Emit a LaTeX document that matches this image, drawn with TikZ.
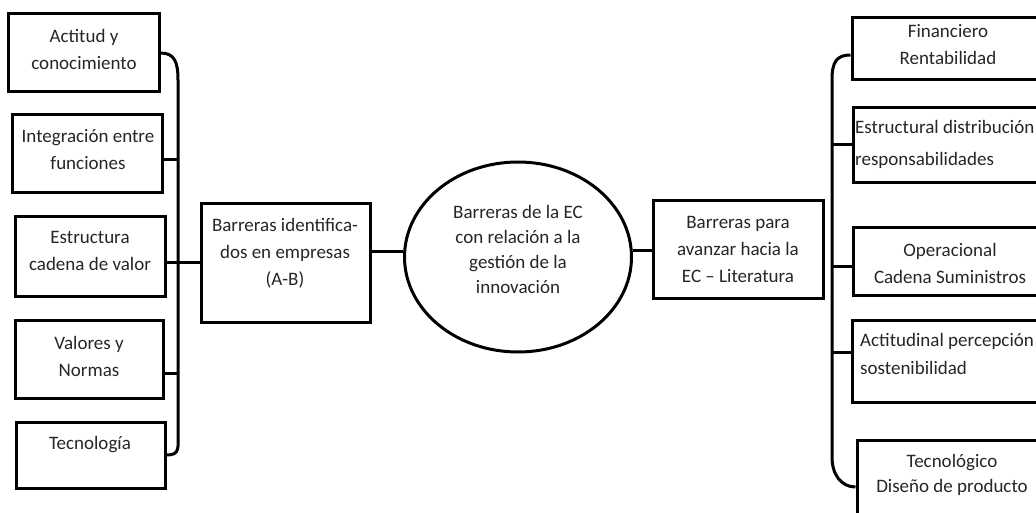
\documentclass[tikz,border=0pt]{standalone}
\usepackage{fontspec}
\setmainfont{Carlito}
\usetikzlibrary{shapes.geometric}
\begin{document}
\begin{tikzpicture}[x=1pt,y=-1pt,
  box/.style={draw, line width=3pt, inner sep=0pt},
  txt/.style={font=\fontsize{19}{27}\selectfont, align=center, inner sep=0pt, text=black!85},
  ln/.style={line width=3pt}]
\clip (0,0) rectangle (1036,513);
\fill[white] (0,0) rectangle (1036,513);
% left boxes
\node[box, minimum width=151, minimum height=78] (l1) at (83.5,53) {};
\node[box, minimum width=150, minimum height=78] (l2) at (87,154) {};
\node[box, minimum width=150, minimum height=79] (l3) at (90,256.5) {};
\node[box, minimum width=148, minimum height=78] (l4) at (89,359) {};
\node[box, minimum width=149, minimum height=66] (l5) at (90.5,455) {};
\node[txt] (l1t) at (84,49) {Actitud y\\conocimiento};
\node[txt] (l2t) at (88,150) {Integración entre\\funciones};
\node[txt] (l3t) at (90,251) {Estructura\\cadena de valor};
\node[txt] (l4t) at (89,356) {Valores y\\Normas};
\node[txt] (l5t) at (90,445) {Tecnología};
% middle
\node[box, minimum width=169, minimum height=118] (m) at (285.5,263) {};
\node[txt] (mt) at (285,253) {Barreras identifica-\\dos en empresas\\(A-B)};
\node[draw, line width=3pt, ellipse, inner sep=0pt, minimum width=227, minimum height=190] (c) at (518,257) {};
\node[txt, font=\fontsize{19}{25}\selectfont] (ct) at (518,249) {Barreras de la EC\\con relación a la\\gestión de la\\innovación};
\node[box, minimum width=170, minimum height=97] (rm) at (738,249.5) {};
\node[txt] (rmt) at (738,249) {Barreras para\\avanzar hacia la\\EC -- Literatura};
% right boxes
\node[box, minimum width=193, minimum height=62] (r1) at (948.5,49) {};
\node[box, minimum width=192, minimum height=75] (r2) at (949,145.5) {};
\node[box, minimum width=192, minimum height=67] (r3) at (949,261.5) {};
\node[box, minimum width=193, minimum height=82] (r4) at (948.5,361) {};
\node[box, minimum width=188, minimum height=85] (r5) at (951,482.5) {};
\node[txt] (r1t) at (948,45) {Financiero\\Rentabilidad};
\node[txt, align=left, anchor=west, font=\fontsize{19}{32}\selectfont] (r2t) at (855,144) {Estructural distribución\\responsabilidades};
\node[txt] (r3t) at (950,263) {Operacional\\Cadena Suministros};
\node[txt, align=left, anchor=west, font=\fontsize{19}{28}\selectfont] (r4t) at (860,354) {Actitudinal percepción\\sostenibilidad};
\node[txt, font=\fontsize{19}{25}\selectfont] (r5t) at (952,475) {Tecnológico\\Diseño de producto};
% left brace
\coordinate (lbt) at (178,80);
\coordinate (lbb) at (178,430);
\draw[ln] (l1.east) .. controls +(14,0) and +(0,-18) .. (lbt) -- (lbb) .. controls +(0,18) and +(14,0) .. (l5.east);
\draw[ln] (l2.east |- 0,160) -- (lbt |- 0,160);
\draw[ln] (l4.east |- 0,373) -- (lbt |- 0,373);
\draw[ln] (l3.east |- 0,262) -- (m.west |- 0,262);
\draw[ln] (m.east |- 0,251) -- (c.west |- 0,251);
\draw[ln] (c.east |- 0,250) -- (rm.west |- 0,250);
% right brace
\coordinate (rbt) at (832,80);
\coordinate (rbb) at (832,457);
\draw[ln] (r1.west |- 0,55) .. controls +(-14,0) and +(0,-18) .. (rbt) -- (rbb) .. controls +(0,18) and +(-14,0) .. (r5.west |- 0,487);
\draw[ln] (r2.west |- 0,145) -- (rbt |- 0,145);
\draw[ln] (r3.west |- 0,266) -- (rbt |- 0,266);
\draw[ln] (r4.west |- 0,352) -- (rbt |- 0,352);
\end{tikzpicture}
\end{document}
